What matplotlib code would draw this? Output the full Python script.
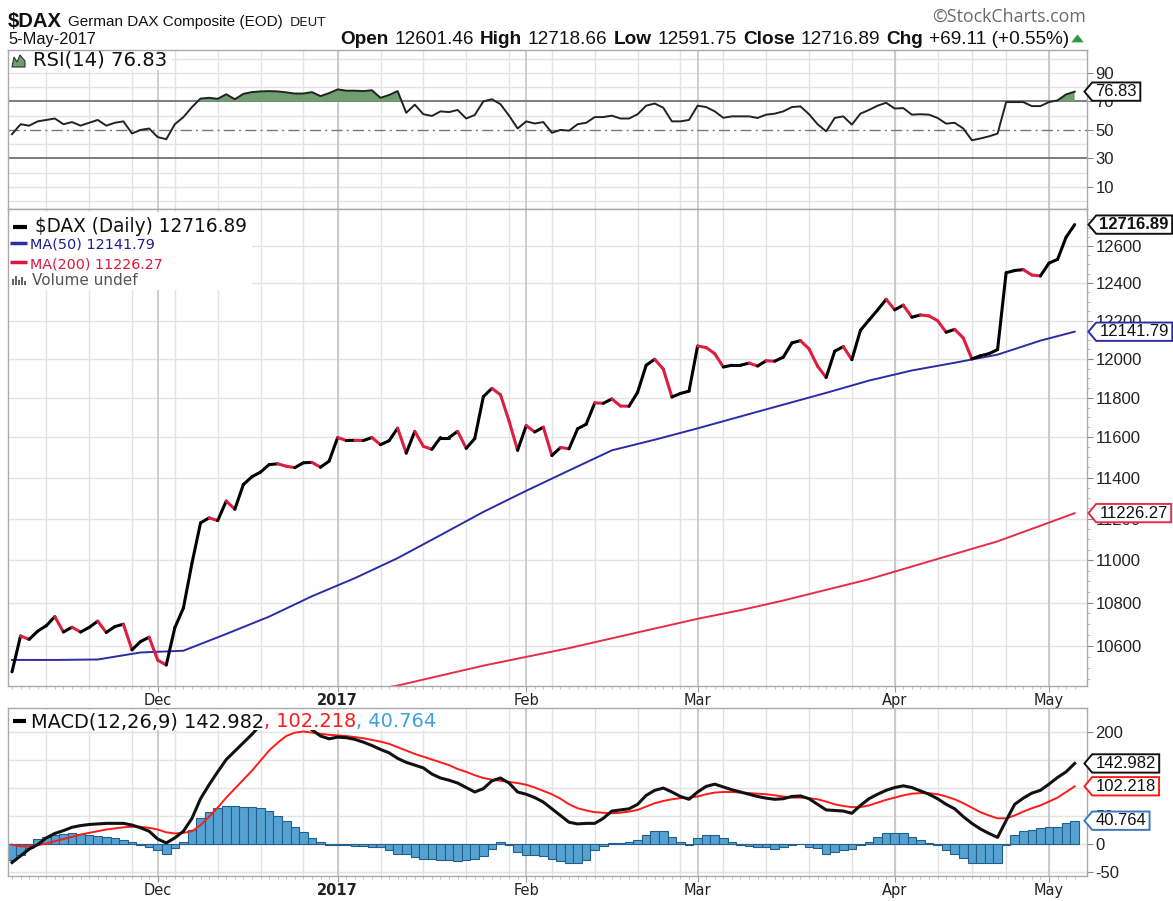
import matplotlib
matplotlib.use('Agg')
import matplotlib.pyplot as plt
import numpy as np
import pandas as pd
from matplotlib.path import Path
from matplotlib.patches import Rectangle, Polygon
from matplotlib.lines import Line2D
from matplotlib.collections import LineCollection
from matplotlib.ticker import FixedLocator, NullFormatter

W, H = 1173, 901

# ---------------------------------------------------------------- data
first_day, last_day = '2016-11-08', '2017-05-05'
market_holidays = ['2016-12-26', '2017-04-14', '2017-04-17', '2017-05-01']

close = [
    10482, 10646, 10630, 10668, 10693, 10735, 10664, 10686, 10664, 10685, 10714, 10662, 10689, 10700, 10582, 10620, 10640,
    10535, 10513, 10684, 10775, 10986, 11179, 11203, 11190, 11285, 11245, 11366, 11404, 11427, 11464, 11468, 11456, 11449,
    11473, 11475, 11451, 11481,
    11599, 11584, 11585, 11584, 11599, 11563, 11583, 11646, 11521, 11630, 11555, 11540, 11599, 11599, 11630, 11545, 11594,
    11806, 11848, 11815, 11682, 11535,
    11659, 11627, 11651, 11509, 11549, 11543, 11643, 11666, 11774, 11772, 11794, 11758, 11757, 11828, 11967, 11998, 11947,
    11804, 11822, 11834,
    12067, 12059, 12027, 11958, 11967, 11967, 11978, 11963, 11990, 11988, 12009, 12083, 12095, 12052, 11962, 11904, 12040,
    12064, 11996, 12149, 12203, 12256, 12313,
    12257, 12282, 12218, 12230, 12225, 12200, 12139, 12154, 12109, 12000, 12016, 12027, 12048, 12455, 12467, 12472, 12443,
    12438,
    12507, 12527, 12648, 12717,
]

# moving averages read every 5th session (plus the last one)
ma_step = 5
ma50 = [10536, 10536, 10538, 10570, 10578, 10655, 10735, 10830, 10915, 11010, 11120, 11232, 11335, 11435, 11535,
        11588, 11645, 11705, 11765, 11825, 11888, 11940, 11980, 12022, 12095, 12142]
ma200_first = 40
ma200 = [10385, 10420, 10465, 10510, 10550, 10590, 10635, 10680, 10725, 10765, 10810, 10860, 10910, 10970, 11030,
         11090, 11165, 11226]

rsi = [
    47, 54, 53, 56, 57, 58, 54, 55.5, 53, 55, 57, 53, 55, 56, 47.5, 50, 51,
    45, 43.5, 54, 59, 66, 72, 72.5, 71.8, 75, 71.5, 75.3, 76.5, 77, 77.2, 77, 76.3, 75.5, 75.5, 76.5, 73.7, 75.8,
    78.4, 77.5, 77.5, 77.2, 77.8, 72.5, 74.5, 77.2, 62, 67.7, 61, 59.8, 63, 62.5, 64, 58, 60.5, 70, 71.5, 68, 60, 51,
    56, 54.5, 55.5, 48, 50, 49.5, 54, 55, 59, 59, 60, 58, 58, 61, 67, 68.5, 65.5, 56, 56, 57,
    67, 66, 63, 58.5, 59.5, 59.5, 59.5, 58.4, 60.7, 61.4, 63, 66, 66.5, 61, 54, 49, 58.4, 59.5, 53.7, 61.4, 64, 67, 69,
    65, 65.3, 60.7, 61, 60.7, 58.4, 54.4, 55, 51, 42.8, 44, 45.5, 47.4, 69.5, 69.5, 69.5, 66.7, 66.7,
    69.5, 70.7, 74.9, 76.83,
]

macd = [
    -34, -22, -10, -2, 10, 18, 23, 29, 32, 34, 35, 36, 36, 36, 33, 28, 22,
    8, 1, 10, 22, 45, 80, 105, 128, 150, 165, 180, 195, 212, 226, 234, 236, 230, 218, 203, 192, 187,
    190, 189, 186, 181, 175, 168, 162, 152, 145, 140, 135, 124, 117, 113, 108, 100, 92, 98, 112, 117, 108, 92,
    88, 82, 74, 62, 50, 38, 35, 36, 36, 45, 58, 60, 62, 70, 86, 95, 99, 92, 84, 79,
    92, 102, 106, 101, 96, 92, 88, 84, 81, 79, 80, 84, 85, 80, 70, 60, 59, 58, 54, 68, 80, 88, 95,
    100, 103, 100, 94, 88, 80, 70, 62, 48, 36, 26, 18, 11, 41, 70, 81, 90, 95,
    106, 118, 128, 143,
]
signal = [
    -2, -5, -5, -3, 0, 4, 8, 12, 16, 19, 22, 25, 27, 29, 30, 30, 28,
    25, 20, 18, 19, 22, 33, 48, 64, 82, 98, 114, 130, 148, 166, 180, 192, 198, 200, 198, 196, 194,
    193, 192, 190, 188, 185, 182, 178, 172, 166, 160, 155, 150, 145, 140, 133, 128, 122, 117, 114, 112, 110, 108,
    105, 100, 94, 88, 80, 70, 63, 59, 56, 55, 54, 55, 57, 60, 66, 72, 76, 79, 81, 82,
    84, 88, 91, 92, 92, 91, 90, 89, 88, 86, 84, 82, 82, 81, 79, 75, 70, 67, 65, 65, 68, 73, 78,
    82, 86, 89, 90, 90, 88, 84, 79, 72, 64, 56, 50, 45, 45, 50, 57, 63, 68,
    75, 82, 92, 102,
]
hist = [
    -30, -20, -8, 8, 12, 15, 17, 18, 17, 15, 13, 11, 9, 6, 3, -3, -6,
    -12, -18, -8, 3, 25, 45, 57, 64, 67, 67, 66, 66, 63, 58, 50, 40, 30, 20, 10, 3, -2,
    -3, -3, -4, -5, -6, -7, -12, -18, -19, -24, -27, -28, -30, -30, -31, -30, -27, -22, -10, 2, -2, -15,
    -20, -20, -22, -27, -32, -34, -34, -30, -12, -5, 1, 1, 2, 6, 16, 22, 22, 11, 3, -2,
    9, 15, 15, 9, 3, -2, -4, -6, -6, -9, -6, -2, -1, -6, -8, -18, -15, -12, -10, -3, 3, 11, 18,
    18, 18, 12, 6, 1, -3, -11, -18, -25, -35, -35, -35, -35, -3, 15, 23, 25, 28,
    30, 30, 36, 41,
]

last_close, last_ma50, last_ma200 = 12716.89, 12141.79, 11226.27
last_rsi = 76.83
last_macd, last_signal, last_hist = 142.982, 102.218, 40.764

month_labels = ['Dec', '2017', 'Feb', 'Mar', 'Apr', 'May']
price_ticks = [10600, 10800, 11000, 11200, 11400, 11600, 11800, 12000, 12200, 12400, 12600]
rsi_ticks = [10, 30, 50, 70, 90]
macd_ticks = [-50, 0, 50, 100, 150, 200]
macd_hidden = [100, 150]   # covered by the value tags in the original

# ---------------------------------------------------------------- sessions
days = pd.bdate_range(first_day, last_day)
days = days[~days.isin(pd.to_datetime(market_holidays))]
n = len(days)
x = np.arange(n)
month_starts = [i for i in range(1, n) if days[i].month != days[i - 1].month]
week_starts = [i for i in range(1, n) if days[i].isocalendar()[1] != days[i - 1].isocalendar()[1]]

ma_idx = list(range(0, n, ma_step)) + [n - 1]
ma200_idx = list(range(ma200_first, n, ma_step)) + [n - 1]

# colours
up_col, down_col = 'black', '#dc1f3e'
ma50_col, ma200_col = '#2c2ca6', '#e82c48'
sig_col = '#ff1a1a'
hist_fc, hist_ec = '#55a2d2', '#245f8a'
grid_col, month_col, frame_col = '#e3e3e3', '#c4c4c4', '#a9a9a9'

fig = plt.figure(figsize=(W / 100, H / 100), dpi=100)
fig.patch.set_facecolor('white')
renderer = fig.canvas.get_renderer()


def panel(left, top, right, bottom):
    return fig.add_axes([left / W, 1 - bottom / H, (right - left) / W, (bottom - top) / H])


X0, X1 = 8, 1087
xlim = ((X0 - 12) / 8.57, (X1 - 12) / 8.57)

ax_r = panel(X0, 50, X1, 209)
ax_p = panel(X0, 209, X1, 686)
ax_m = panel(X0, 708, X1, 876)


def base_style(ax, hgrid, show_labels):
    ax.set_xlim(xlim)
    for s in ax.spines.values():
        s.set_color(frame_col)
        s.set_linewidth(1)
    for v in hgrid:
        ax.axhline(v, color=grid_col, lw=1, zorder=0)
    for i in week_starts:
        ax.axvline(i, color=grid_col, lw=1, zorder=0)
    for i in month_starts:
        ax.axvline(i, color=month_col, lw=1.2, zorder=0)
    ax.yaxis.tick_right()
    ax.tick_params(axis='y', which='major', length=4, color='#888', labelsize=12, labelcolor='#222', pad=2)
    ax.tick_params(axis='y', which='minor', length=2, color='#aaa')
    ax.set_xticks(month_starts)
    ax.xaxis.set_minor_locator(FixedLocator(x))
    if show_labels:
        ax.set_xticklabels(month_labels)
        ax.tick_params(axis='x', which='major', length=4, color='#999', labelsize=10.5, labelcolor='#222', pad=1)
        ax.tick_params(axis='x', which='minor', length=2.5, color='#bbb')
        ax.get_xticklabels()[1].set_fontweight('bold')
    else:
        ax.set_xticklabels([])
        ax.tick_params(axis='x', which='both', length=0)


def ylabels(ax, ticks, hidden=()):
    ax.yaxis.set_major_locator(FixedLocator(ticks))
    ax.set_yticklabels(['' if v in hidden else str(v) for v in ticks])
    for lab in ax.get_yticklabels():
        lab.set_family('Liberation Sans')


# ---------------------------------------------------------------- RSI
base_style(ax_r, [v for v in range(0, 101, 10) if v not in (30, 50, 70)], False)
ax_r.set_ylim(-5.4, 106)
ylabels(ax_r, rsi_ticks)
ax_r.axhline(70, color='#666', lw=1.2, zorder=1)
ax_r.axhline(30, color='#666', lw=1.2, zorder=1)
ax_r.axhline(50, color='#777', lw=1, ls='-.', dashes=(8, 3, 1.5, 3), zorder=1)
rsi_a = np.array(rsi)
ax_r.fill_between(x, rsi_a, 70, where=rsi_a > 70, interpolate=True, color='#6f9e6f', lw=0, zorder=2)
ax_r.plot(x, rsi_a, color='#222', lw=1.4, zorder=3)

# ---------------------------------------------------------------- price
base_style(ax_p, price_ticks, True)
ax_p.set_yscale('log')
ax_p.set_ylim(10418, 12803)
ylabels(ax_p, price_ticks)
ax_p.yaxis.set_minor_locator(FixedLocator([v for v in range(10450, 12800, 50) if v not in price_ticks]))
ax_p.yaxis.set_minor_formatter(NullFormatter())

ax_p.plot(ma_idx, ma50, color=ma50_col, lw=1.4, zorder=2)
ax_p.plot(ma200_idx, ma200, color=ma200_col, lw=1.4, zorder=2)
segs = [[(i - 1, close[i - 1]), (i, close[i])] for i in range(1, n)]
cols = [up_col if close[i] >= close[i - 1] else down_col for i in range(1, n)]
ax_p.add_collection(LineCollection(segs, colors=cols, linewidths=2.2, capstyle='round', zorder=3))

# ---------------------------------------------------------------- MACD
base_style(ax_m, macd_ticks, True)
ax_m.set_ylim(-58, 242)
ylabels(ax_m, macd_ticks, macd_hidden)
ax_m.bar(x, hist, width=1.0, color=hist_fc, edgecolor=hist_ec, linewidth=0.8, zorder=2)
ax_m.plot(x, signal, color=sig_col, lw=1.4, zorder=3)
ax_m.plot(x, macd, color='#111', lw=2.2, zorder=4)


# ---------------------------------------------------------------- value tags
def tag_shape(x0, y0, width, height, mutation_size):
    px, py = 0.2 * mutation_size, 0.1 * mutation_size
    x0, y0 = x0 - px, y0 - py
    x1, y1 = x0 + width + 2 * px, y0 + height + 2 * py
    tip = (y1 - y0) * 0.42
    ym = (y0 + y1) / 2
    return Path([(x0, y0), (x1, y0), (x1, y1), (x0, y1), (x0 - tip, ym), (x0, y0)],
                [Path.MOVETO] + [Path.LINETO] * 4 + [Path.CLOSEPOLY])


def tag(ax, val, text, edge, size=11.5, bold=False, shift=0):
    fs_px = size * 100 / 72
    off = 0.42 * fs_px * 1.45 + 0.2 * fs_px + shift
    ax.annotate(text, xy=(1, val), xycoords=('axes fraction', 'data'), xytext=(off, 0),
                textcoords='offset pixels', ha='left', va='center', fontsize=size,
                family='Liberation Sans', fontweight='bold' if bold else 'normal', color='#111',
                bbox=dict(boxstyle=tag_shape, fc='white', ec=edge, lw=1.4),
                annotation_clip=False, zorder=10)


tag(ax_r, last_rsi, f'{last_rsi:.2f}', '#111', size=12, shift=-5)
tag(ax_p, last_close, f'{last_close:.2f}', '#111', size=12, bold=True, shift=-1)
tag(ax_p, last_ma50, f'{last_ma50:.2f}', ma50_col, size=12, shift=-1)
tag(ax_p, last_ma200, f'{last_ma200:.2f}', ma200_col, size=12, shift=-1)
tag(ax_m, last_macd, f'{last_macd:.3f}', '#111', size=12, shift=-5)
tag(ax_m, last_signal, f'{last_signal:.3f}', sig_col, size=12, shift=-5)
tag(ax_m, last_hist, f'{last_hist:.3f}', '#3b78b8', size=12, shift=-5)


# ---------------------------------------------------------------- text helpers (pixel coords, top-left origin)
def run(parts, x0, x1, y, gap=0.0):
    arts = [fig.text(0, 1 - y / H, s, va='baseline', ha='left', zorder=5, **p) for s, p in parts]
    w = [a.get_window_extent(renderer).width for a in arts]
    scale = (x1 - x0 - gap * (len(arts) - 1)) / sum(w)
    for a in arts:
        a.set_fontsize(a.get_fontsize() * scale)
    w = [a.get_window_extent(renderer).width for a in arts]
    cx = x0
    for a, wi in zip(arts, w):
        a.set_x(cx / W)
        cx += wi + gap
    return arts


def white_box(x0, y0, x1, y1):
    fig.add_artist(Rectangle((x0 / W, 1 - y1 / H), (x1 - x0) / W, (y1 - y0) / H, transform=fig.transFigure,
                             fc='white', ec='none', zorder=3))


def dash(x0, x1, y, color, lw=3):
    fig.add_artist(Line2D([x0 / W, x1 / W], [1 - y / H] * 2, color=color, lw=lw, transform=fig.transFigure,
                          zorder=5, solid_capstyle='butt'))


def shape(points, fc, ec, lw=0.8):
    fig.add_artist(Polygon([(px / W, 1 - py / H) for px, py in points], closed=True, fc=fc, ec=ec, lw=lw,
                           transform=fig.transFigure, zorder=5))


sans = dict(family='Liberation Sans', color='#111')
sans_b = dict(family='Liberation Sans', color='#111', fontweight='bold')
dv = dict(family='DejaVu Sans')

# header
run([('$DAX', dict(sans_b, fontsize=15))], 8, 62, 27)
run([('German DAX Composite (EOD)', dict(sans, fontsize=11))], 68, 282, 26)
run([('DEUT', dict(dv, fontsize=9, color='#222'))], 290, 327, 26)
run([('5-May-2017', dict(sans, fontsize=11))], 8, 95, 44)
run([('Open', dict(sans_b, fontsize=12)), ('12601.46', dict(sans, fontsize=12)),
     ('High', dict(sans_b, fontsize=12)), ('12718.66', dict(sans, fontsize=12)),
     ('Low', dict(sans_b, fontsize=12)), ('12591.75', dict(sans, fontsize=12)),
     ('Close', dict(sans_b, fontsize=12)), ('12716.89', dict(sans, fontsize=12)),
     ('Chg', dict(sans_b, fontsize=12)), ('+69.11 (+0.55%)', dict(sans, fontsize=12))], 340, 1066, 44, gap=6)
shape([(1072, 42), (1083, 42), (1077.5, 35)], '#2f9a3c', '#2f9a3c', lw=0.5)
run([('\u00a9StockCharts.com', dict(family='Open Sans', fontsize=12, color='#6a6a6a'))], 932, 1085, 22)

# RSI legend
white_box(10, 52, 172, 70)
shape([(12, 67), (14, 57), (17, 62), (20, 55), (25, 61), (25, 67)], '#6f9e6f', '#333')
run([('RSI(14) 76.83', dict(dv, fontsize=12, color='#111'))], 33, 167, 66)

# price legend
white_box(10, 212, 252, 290)
dash(13, 27, 227, 'black')
run([('$DAX (Daily) 12716.89', dict(dv, fontsize=12, color='#111'))], 35, 247, 232)
dash(10, 27, 243, ma50_col, lw=2.5)
run([('MA(50) 12141.79', dict(dv, fontsize=10, color='#1e1e96'))], 30, 155, 248)
dash(10, 27, 262, '#e0163c', lw=2.5)
run([('MA(200) 11226.27', dict(dv, fontsize=10, color='#e0163c'))], 30, 163, 268)
for bx, bh in [(12, 6), (15, 9), (18, 5), (21, 8), (24, 4)]:
    fig.add_artist(Rectangle((bx / W, 1 - 285 / H), 2.2 / W, bh / H, transform=fig.transFigure,
                             fc='#666', ec='none', zorder=5))
run([('Volume undef', dict(dv, fontsize=10, color='#555'))], 32, 137, 285)

# MACD legend
white_box(10, 710, 440, 730)
dash(13, 26, 721, 'black')
run([('MACD(12,26,9) 142.982', dict(dv, fontsize=12, color='#111')),
     (', 102.218', dict(dv, fontsize=12, color='#ff1a1a')),
     (', 40.764', dict(dv, fontsize=12, color='#3ea0d8'))], 31, 435, 727)

fig.savefig('out.png', dpi=100, facecolor='white')
